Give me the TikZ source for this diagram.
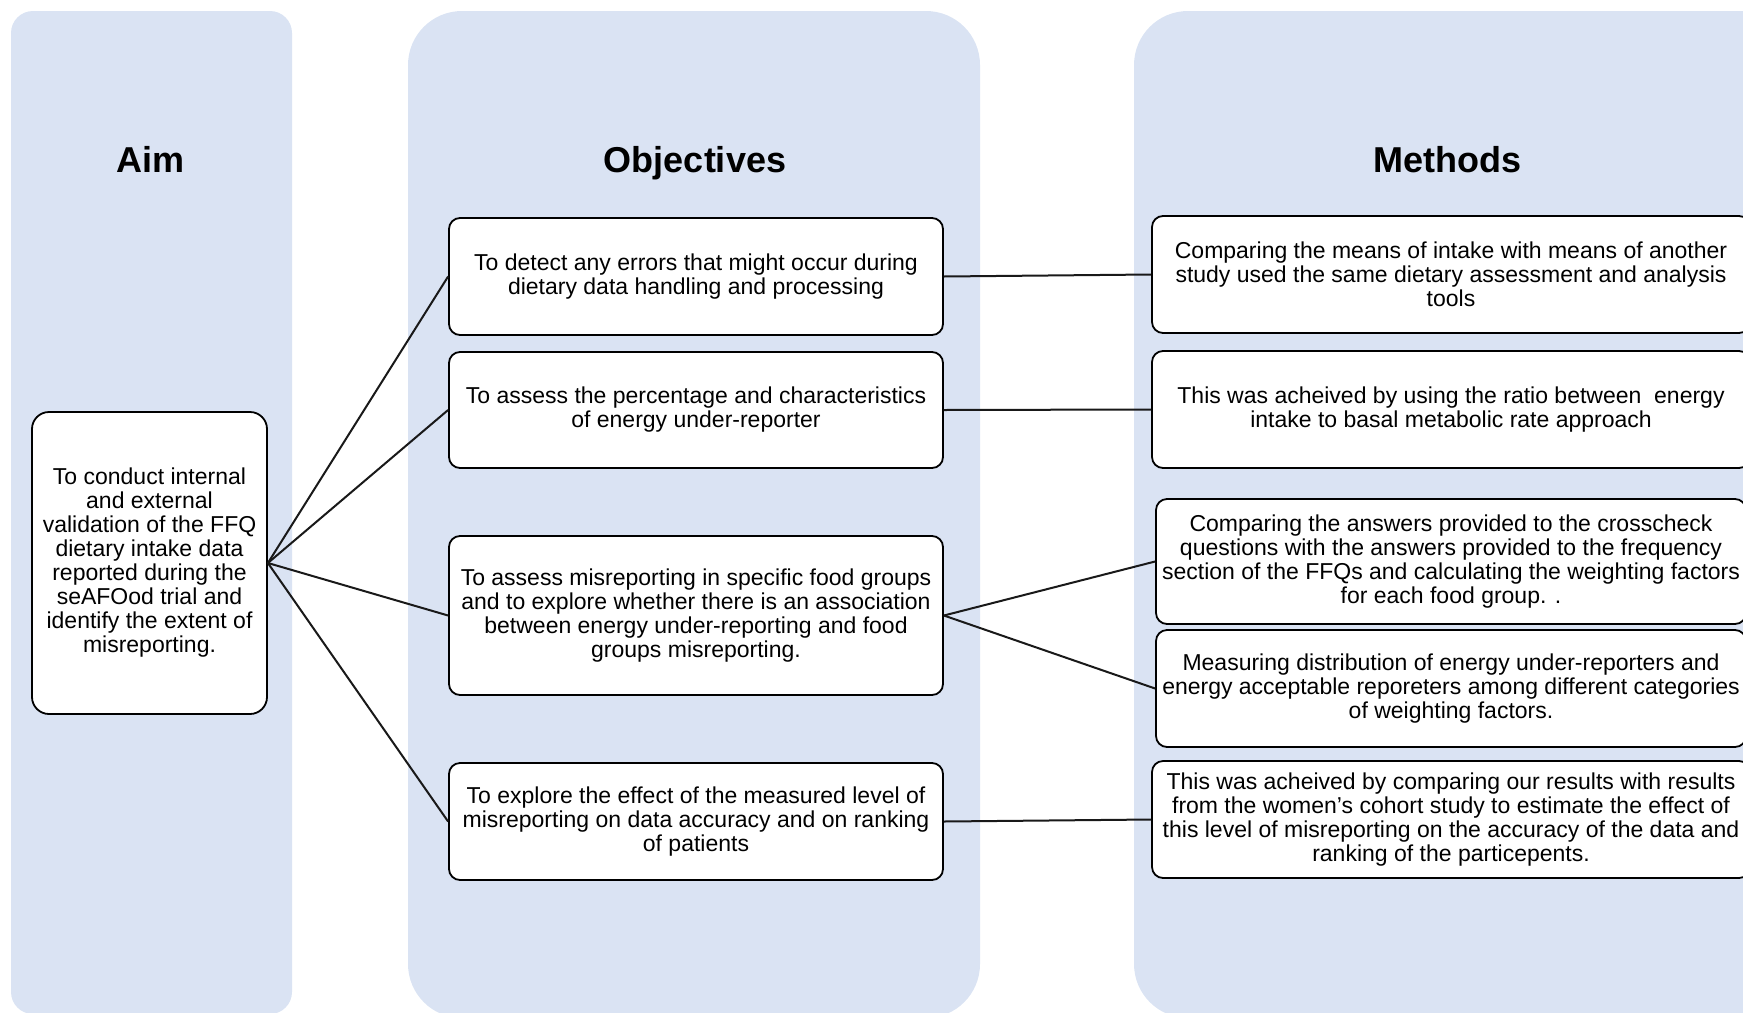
\documentclass[tikz,border=0pt]{standalone}
\usepackage{fontspec}
\setmainfont{Liberation Sans}
\definecolor{panelblue}{RGB}{218,227,243}
\begin{document}
\begin{tikzpicture}[x=0.5pt,y=-0.5pt,
  heading/.style={font=\fontsize{18}{21}\selectfont\bfseries, anchor=base},
  card/.style={draw=black, line width=0.9pt, fill=white, rounded corners=5.5pt,
    align=center, inner sep=0pt, font=\fontsize{11.5}{12}\selectfont},
  link/.style={line width=1pt, draw=black!90}]
\useasboundingbox (0,0) rectangle (1743,1012);

% column backgrounds
\fill[panelblue, rounded corners=11pt] (11,11) rectangle (292,1014);
\fill[panelblue, rounded corners=27pt] (408,11) rectangle (980,1018);
\fill[panelblue, rounded corners=27pt] (1134,11) rectangle (1820,1018);

% column headings, on a common baseline
\node[heading] (hAim) at (151,172) {Aim};
\node[heading] (hObj) at (695,172) {Objectives};
\node[heading] (hMet) at (1447,172) {Methods};

% aim
\node[card, rounded corners=8.5pt, minimum width=117.5pt, minimum height=151pt] (aim) at (149.5,563)
  {To conduct internal\\and external\\validation of the FFQ\\dietary intake data\\reported during the\\seAFOod trial and\\identify the extent of\\misreporting.};

% objectives
\node[card, minimum width=247pt, minimum height=58.5pt] (o1) at (696,276.5)
  {To detect any errors that might occur during\\dietary data handling and processing};
\node[card, minimum width=247pt, minimum height=58pt] (o2) at (696,410)
  {To assess the percentage and characteristics\\of energy under-reporter};
\node[card, minimum width=247pt, minimum height=79.5pt] (o3) at (696,615.5)
  {To assess misreporting in specific food groups\\and to explore whether there is an association\\between energy under-reporting and food\\groups misreporting.};
\node[card, minimum width=247pt, minimum height=58.5pt] (o4) at (696,821.5)
  {To explore the effect of the measured level of\\misreporting on data accuracy and on ranking\\of patients};

% methods
\node[card, minimum width=299pt, minimum height=58.5pt] (m1) at (1451,274.5)
  {Comparing the means of intake with means of another\\study used the same dietary assessment and analysis\\tools};
\node[card, minimum width=299pt, minimum height=58.5pt] (m2) at (1451,409.5)
  {This was acheived by using the ratio between\ \ energy\\intake to basal metabolic rate approach};
\node[card, minimum width=295pt, minimum height=62.5pt] (m3) at (1451,561.5)
  {Comparing the answers provided to the crosscheck\\questions with the answers provided to the frequency\\section of the FFQs and calculating the weighting factors\\for each food group. .};
\node[card, minimum width=295pt, minimum height=58.5pt] (m4) at (1451,688.5)
  {Measuring distribution of energy under-reporters and\\energy acceptable reporeters among different categories\\of weighting factors.};
\node[card, minimum width=299pt, minimum height=58.5pt] (m5) at (1451,819.5)
  {This was acheived by comparing our results with results\\from the women's cohort study to estimate the effect of\\this level of misreporting on the accuracy of the data and\\ranking of the particepents.};

% connectors
\draw[link] (aim.east) -- (o1.west);
\draw[link] (aim.east) -- (o2.west);
\draw[link] (aim.east) -- (o3.west);
\draw[link] (aim.east) -- (o4.west);
\draw[link] (o1.east) -- (m1.west);
\draw[link] (o2.east) -- (m2.west);
\draw[link] (o3.east) -- (m3.west);
\draw[link] (o3.east) -- (m4.west);
\draw[link] (o4.east) -- (m5.west);
\end{tikzpicture}
\end{document}
